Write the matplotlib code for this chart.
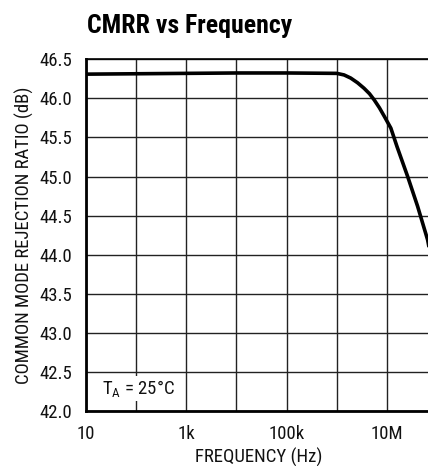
import matplotlib
matplotlib.use("Agg")
import matplotlib.pyplot as plt

fam = "Roboto Condensed"
plt.rcParams['font.family'] = [fam, 'DejaVu Sans']
plt.rcParams['mathtext.fontset'] = 'custom'
plt.rcParams['mathtext.rm'] = fam
plt.rcParams['mathtext.it'] = fam

freq_hz = [10, 100, 1e3, 1e4, 1e5, 1e6, 1.4e6, 1.9e6, 2.6e6, 3.5e6, 4.5e6, 5.6e6, 7.1e6, 8.9e6, 1.2e7, 1.6e7, 2.6e7, 4.1e7, 6.5e7, 7.3e7]
cmrr_db = [46.31, 46.315, 46.32, 46.325, 46.325, 46.32, 46.30, 46.26, 46.20, 46.13, 46.06, 45.98, 45.88, 45.77, 45.62, 45.38, 45.0, 44.62, 44.19, 44.02]

yticks = [42.0, 42.5, 43.0, 43.5, 44.0, 44.5, 45.0, 45.5, 46.0, 46.5]
xtick_vals = [10, 1e3, 1e5, 1e7]
xtick_labels = ["10", "1k", "100k", "10M"]
xgrid = [10, 100, 1e3, 1e4, 1e5, 1e6, 1e7]

W, H = 428, 466
fig = plt.figure(figsize=(W/100, H/100), dpi=100)
left, right, top, bottom = 86, 437, 59.3, 411
ax = fig.add_axes([left/W, 1-bottom/H, (right-left)/W, (bottom-top)/H])
ax.set_xscale('log')
ax.set_xlim(10, 1e8)
ax.set_ylim(42.0, 46.5)

for g in xgrid:
    ax.axvline(g, color='#222222', lw=1.0, zorder=1)
for y in yticks:
    ax.axhline(y, color='#222222', lw=1.0, zorder=1)

ax.plot(freq_hz, cmrr_db, color='black', lw=2.6, zorder=3, solid_capstyle='butt', solid_joinstyle='round')

ax.set_xticks(xtick_vals)
ax.set_xticklabels(xtick_labels)
ax.set_xticks([], minor=True)
ax.set_yticks(yticks)
ax.set_yticklabels([f"{v:.1f}" for v in yticks])
ax.tick_params(length=0, labelsize=13.5, colors='#111111')
ax.tick_params(axis='y', pad=10)
ax.tick_params(axis='x', pad=10)

for s in ['left', 'bottom']:
    ax.spines[s].set_linewidth(2.0)
for s in ['top', 'right']:
    ax.spines[s].set_linewidth(1.2)

fig.text(259/W, 1-463/H, "FREQUENCY (Hz)", fontsize=13.5, ha='center', va='baseline', color='#111111')
ax.set_ylabel("COMMON MODE REJECTION RATIO (dB)", fontsize=13.5, labelpad=4, color='#111111')
fig.text(87/W, 1-33/H, "CMRR vs Frequency", fontsize=18.5, fontweight='bold', ha='left', va='baseline')

ax.text(0.045, 0.065, r"$\mathrm{T_A}$ = 25°C", transform=ax.transAxes, fontsize=13.5,
        ha='left', va='center', zorder=4, color='#111111',
        bbox=dict(facecolor='white', edgecolor='none', pad=1.5))

fig.savefig("out.png", dpi=100)
